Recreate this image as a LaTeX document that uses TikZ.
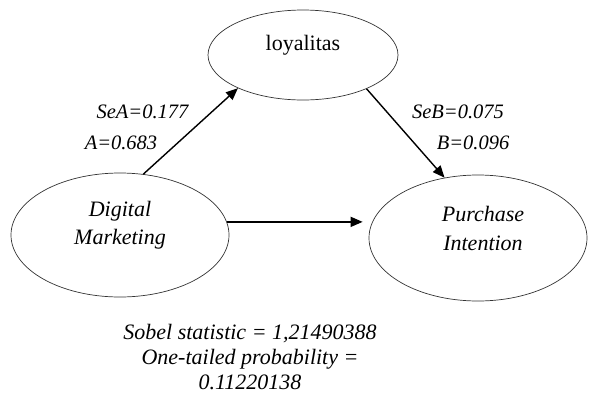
\documentclass[tikz,border=0pt]{standalone}
\usepackage{fontspec}
\setmainfont{Liberation Serif}
\usetikzlibrary{arrows.meta,shapes.geometric}

\begin{document}
\begin{tikzpicture}[x=1pt,y=-1pt,
  construct/.style={draw=black!80, line width=0.7pt, ellipse, inner sep=0pt},
  vartext/.style={font=\fontsize{22}{28}\selectfont, align=center, inner sep=0pt},
  coef/.style={font=\fontsize{20.5}{24}\selectfont\itshape, inner sep=0pt},
  note/.style={font=\fontsize{22}{25}\selectfont\itshape, align=center, inner sep=0pt},
  link/.style={line width=1.4pt, -{Triangle[length=12pt,width=10pt]}}]
\useasboundingbox (0,0) rectangle (589,394);

% constructs
\node[construct, minimum width=190pt, minimum height=90pt] (loy) at (303,55) {};
\node[vartext] (loytext) at (303,45) {loyalitas};

\node[construct, minimum width=218pt, minimum height=124pt] (dm) at (120,235) {};
\node[vartext, font=\fontsize{22}{28}\selectfont\itshape] (dmtext) at (120,225) {Digital\\Marketing};

\node[construct, minimum width=218pt, minimum height=126pt] (pi) at (478,238) {};
\node[vartext, font=\fontsize{22}{29}\selectfont\itshape] (pitext) at (483,228) {Purchase\\Intention};

% paths
\draw[link] (dm.69.6) -- (loy.207.9);
\draw[link] (loy.332.4) -- (pi.119.1);
\draw[link, shorten >=6pt] (dm.7) -- (dm.7 -| pi.west);

% coefficients
\node[coef] (sea) at (142.5,112) {SeA=0.177};
\node[coef] (a) at (121,143) {A=0.683};
\node[coef] (seb) at (458,112) {SeB=0.075};
\node[coef] (b) at (473,143) {B=0.096};

% Sobel test result
\node[note] (sobel) at (250,357) {Sobel statistic = 1,21490388\\One-tailed probability =\\0.11220138};
\end{tikzpicture}
\end{document}
